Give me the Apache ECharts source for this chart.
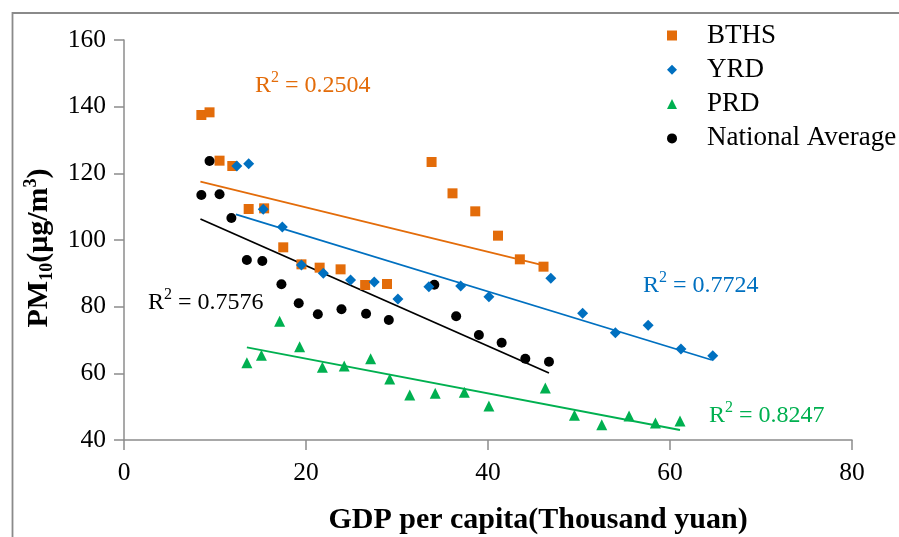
<!DOCTYPE html>
<html>
<head>
<meta charset="utf-8">
<script src="https://cdn.jsdelivr.net/npm/echarts@6/dist/echarts.min.js"></script>
<style>
  html, body { margin: 0; padding: 0; background: #fff; }
  #main { width: 899px; height: 537px; }
</style>
</head>
<body>
<div id="main"></div>
<script>
// GDP per capita (thousand yuan) vs PM10, four regions
var bthsX = [8.5, 9.4, 10.5, 11.9, 13.7, 15.4, 17.5, 19.5, 21.5, 23.8, 26.5, 28.9, 33.8, 36.1, 38.6, 41.1, 43.5, 46.1];
var bthsY = [137.5, 138.3, 123.8, 122.2, 109.3, 109.5, 97.8, 92.7, 91.7, 91.2, 86.5, 86.8, 123.4, 114, 108.6, 101.3, 94.2, 92];

var yrdX = [12.4, 13.7, 15.3, 17.4, 19.5, 21.9, 24.9, 27.5, 30.1, 33.5, 37.0, 40.1, 46.9, 50.4, 54.0, 57.6, 61.2, 64.7];
var yrdY = [122.2, 122.9, 109.2, 103.9, 92.5, 90, 88, 87.4, 82.3, 86, 86.2, 83, 88.5, 78, 72.2, 74.4, 67.3, 65.3];

var prdX = [13.5, 15.1, 17.1, 19.3, 21.8, 24.2, 27.1, 29.2, 31.4, 34.2, 37.4, 40.1, 46.3, 49.5, 52.5, 55.5, 58.4, 61.1];
var prdY = [63.2, 65.4, 75.6, 68, 61.8, 62.2, 64.4, 58.3, 53.5, 54, 54.3, 50.2, 55.6, 47.4, 44.6, 47.2, 45.1, 45.7];

var natX = [8.5, 9.4, 10.5, 11.8, 13.5, 15.2, 17.3, 19.2, 21.3, 23.9, 26.6, 29.1, 34.1, 36.5, 39.0, 41.5, 44.1, 46.7];
var natY = [113.5, 123.7, 113.7, 106.6, 94, 93.7, 86.7, 81, 77.7, 79.2, 77.9, 76, 86.6, 77.1, 71.5, 69.2, 64.4, 63.5];

// linear trend lines (start / end points)
var bthsFit = [[8.4, 117.5], [46.1, 92.4]];
var yrdFit = [[12.3, 107.7], [64.6, 64.0]];
var prdFit = [[13.5, 67.8], [61.1, 43.0]];
var natFit = [[8.4, 106.3], [46.7, 60.1]];

var r2 = { bths: '0.2504', yrd: '0.7724', prd: '0.8247', nat: '0.7576' };

var FONT = "'Liberation Serif', 'Times New Roman', serif";
var ORANGE = '#E36C0A', BLUE = '#0070C0', GREEN = '#00B050', BLACK = '#000000';

function pairs(xs, ys) {
    return xs.map(function (x, i) { return [x, ys[i]]; });
}

function r2Label(val, color, x, y) {
    return {
        type: 'text',
        left: x,
        top: y,
        style: {
            text: '{a|R}{s|2}{a| = ' + val + '}',
            fill: color,
            rich: {
                a: { fontFamily: FONT, fontSize: 24, color: color, lineHeight: 28, verticalAlign: 'bottom' },
                s: { fontFamily: FONT, fontSize: 16, color: color, lineHeight: 28, verticalAlign: 'top' }
            }
        }
    };
}

function fitLine(data, color) {
    return {
        type: 'line',
        data: data,
        symbol: 'none',
        silent: true,
        lineStyle: { color: color, width: 1.8 },
        z: 1
    };
}

var myChart = echarts.init(document.getElementById('main'));

var option = {
    backgroundColor: '#fff',
    animation: false,
    grid: { left: 124, right: 47, top: 40, bottom: 97 },
    legend: {
        orient: 'vertical',
        left: 667,
        top: 22,
        padding: 0,
        itemWidth: 10,
        itemHeight: 10,
        itemGap: 7.3,
        data: ['BTHS', 'YRD', 'PRD', 'National Average'],
        textStyle: { fontFamily: FONT, fontSize: 27, color: '#000', padding: [0, 0, 0, 25], lineHeight: 26 }
    },
    xAxis: {
        type: 'value',
        min: 0,
        max: 80,
        interval: 20,
        splitLine: { show: false },
        axisLine: { lineStyle: { color: '#8c8c8c', width: 1.5 } },
        axisTick: { length: 10, lineStyle: { color: '#8c8c8c', width: 1.5 } },
        axisLabel: { margin: 20, fontFamily: FONT, fontSize: 25.5, color: '#000' }
    },
    yAxis: {
        type: 'value',
        min: 40,
        max: 160,
        interval: 20,
        splitLine: { show: false },
        axisLine: { show: true, lineStyle: { color: '#8c8c8c', width: 1.5 } },
        axisTick: { show: true, length: 10, lineStyle: { color: '#8c8c8c', width: 1.5 } },
        axisLabel: { margin: 18, fontFamily: FONT, fontSize: 25.5, color: '#000' }
    },
    graphic: [
        {
            type: 'rect',
            shape: { x: 12.5, y: 13, width: 1200, height: 1200 },
            style: { fill: 'none', stroke: '#8a8a8a', lineWidth: 1.8 },
            silent: true
        },
        {
            type: 'text',
            x: 39,
            y: 248,
            rotation: Math.PI / 2,
            style: {
                text: '{b|PM}{sub|10}{b|(μg/m}{sup|3}{b|)}',
                align: 'center',
                verticalAlign: 'middle',
                rich: {
                    b: { fontFamily: FONT, fontSize: 30, fontWeight: 'bold', color: '#000', lineHeight: 34, verticalAlign: 'middle' },
                    sub: { fontFamily: FONT, fontSize: 18, fontWeight: 'bold', color: '#000', lineHeight: 34, verticalAlign: 'bottom' },
                    sup: { fontFamily: FONT, fontSize: 18, fontWeight: 'bold', color: '#000', lineHeight: 34, verticalAlign: 'top' }
                }
            }
        },
        {
            type: 'text',
            x: 538,
            y: 520,
            style: {
                text: 'GDP per capita(Thousand yuan)',
                align: 'center',
                verticalAlign: 'middle',
                fontFamily: FONT,
                fontSize: 30,
                fontWeight: 'bold',
                fill: '#000'
            }
        },
        r2Label(r2.bths, ORANGE, 255, 70),
        r2Label(r2.nat, BLACK, 148, 287),
        r2Label(r2.yrd, BLUE, 643, 270),
        r2Label(r2.prd, GREEN, 709, 400)
    ],
    series: [
        fitLine(bthsFit, ORANGE),
        fitLine(yrdFit, BLUE),
        fitLine(prdFit, GREEN),
        fitLine(natFit, BLACK),
        {
            name: 'BTHS',
            type: 'scatter',
            symbol: 'rect',
            symbolSize: 10,
            itemStyle: { color: ORANGE, opacity: 1 },
            data: pairs(bthsX, bthsY),
            z: 2
        },
        {
            name: 'YRD',
            type: 'scatter',
            symbol: 'diamond',
            symbolSize: 11,
            itemStyle: { color: BLUE, opacity: 1 },
            data: pairs(yrdX, yrdY),
            z: 3
        },
        {
            name: 'PRD',
            type: 'scatter',
            symbol: 'triangle',
            symbolSize: 11,
            itemStyle: { color: GREEN, opacity: 1 },
            data: pairs(prdX, prdY),
            z: 2
        },
        {
            name: 'National Average',
            type: 'scatter',
            symbol: 'circle',
            symbolSize: 10,
            itemStyle: { color: BLACK, opacity: 1 },
            data: pairs(natX, natY),
            z: 2
        }
    ]
};

myChart.setOption(option);
</script>
</body>
</html>
